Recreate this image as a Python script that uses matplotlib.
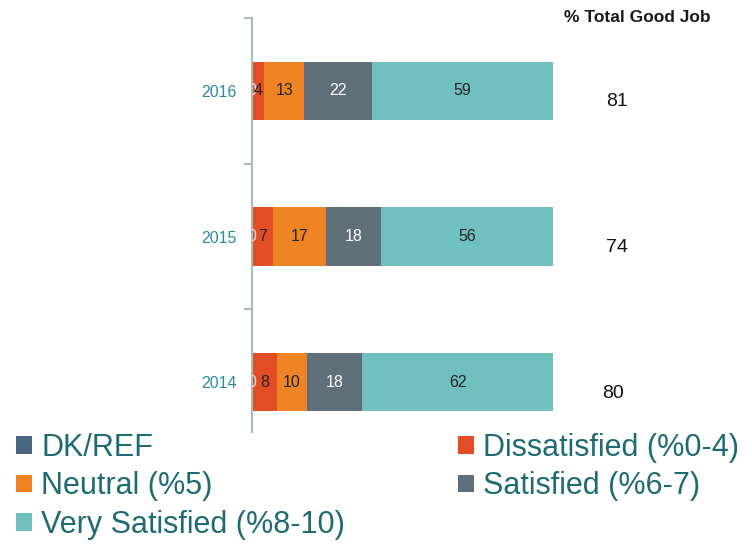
import matplotlib.pyplot as plt
from matplotlib.patches import Patch
import numpy as np

plt.rcParams['font.family'] = ['Liberation Sans', 'DejaVu Sans']

# data
years = ["2014", "2015", "2016"]
dk_ref = [0, 0, 0]
dissatisfied = [8, 7, 4]
neutral = [10, 17, 13]
satisfied = [18, 18, 22]
very_satisfied = [62, 56, 59]
total_good = [80, 74, 81]

series = [
    ("DK/REF", dk_ref, "#4a6580", "#dde6ea"),
    ("Dissatisfied (%0-4)", dissatisfied, "#e34d26", "#222222"),
    ("Neutral (%5)", neutral, "#ee8423", "#222222"),
    ("Satisfied (%6-7)", satisfied, "#5f6f7a", "#ffffff"),
    ("Very Satisfied (%8-10)", very_satisfied, "#70c0c0", "#222222"),
]

fig = plt.figure(figsize=(7.52, 5.45), dpi=100)
ax = fig.add_axes([0.3351, 0.165, 0.653, 0.802])

y = np.arange(len(years))
left = np.zeros(len(years))
handles = []
for name, vals, col, tcol in series:
    vals = np.array(vals, dtype=float)
    ax.barh(y, vals, left=left, height=0.4, color=col, edgecolor="none")
    for yi, (l, v) in enumerate(zip(left, vals)):
        ax.text(l + v / 2, yi, f"{int(v)}", ha="center", va="center",
                fontsize=11.5, color=tcol, clip_on=True)
    left += vals
    handles.append(Patch(facecolor=col, edgecolor="none", label=name))

# total good job column
for yi, t in enumerate(total_good):
    dx = -1.3 if yi == 0 else 0
    ax.text(118.8 + dx, yi - 0.075, str(t), ha="center", va="center",
            fontsize=14, color="#111111")
fig.text(637 / 752, 1 - 18 / 545, "% Total Good Job", fontsize=12.5,
         fontweight="bold", ha="center", va="center", color="#1a1a1a")

ax.set_xlim(0, 160)
ax.set_ylim(-0.5, 2.5)
ax.set_yticks(y)
ax.set_yticklabels(years, fontsize=11.5, color="#2a8aa0")
ax.set_yticks([-0.5, 0.5, 1.5, 2.5], minor=True)
ax.tick_params(axis="y", which="major", length=0, pad=11)
ax.tick_params(axis="y", which="minor", length=6, color="#a9b8c0", width=1.5)
ax.set_xticks([])
for s in ["top", "right", "bottom"]:
    ax.spines[s].set_visible(False)
ax.spines["left"].set_color("#a9b8c0")
ax.spines["left"].set_linewidth(1.5)

order = [0, 2, 4, 1, 3]
leg = fig.legend([handles[i] for i in order], [handles[i].get_label() for i in order],
                 loc="upper left", bbox_to_anchor=(16 / 752, 1 - 433 / 545), ncol=2,
                 fontsize=22, frameon=True, facecolor="white", edgecolor="none",
                 framealpha=1, handlelength=0.52, handleheight=0.52,
                 handletextpad=0.3, columnspacing=3.7, labelspacing=0.27,
                 borderpad=0, borderaxespad=0)
for txt in leg.get_texts():
    txt.set_color("#1f6b73")

fig.savefig("out.png", dpi=100)
